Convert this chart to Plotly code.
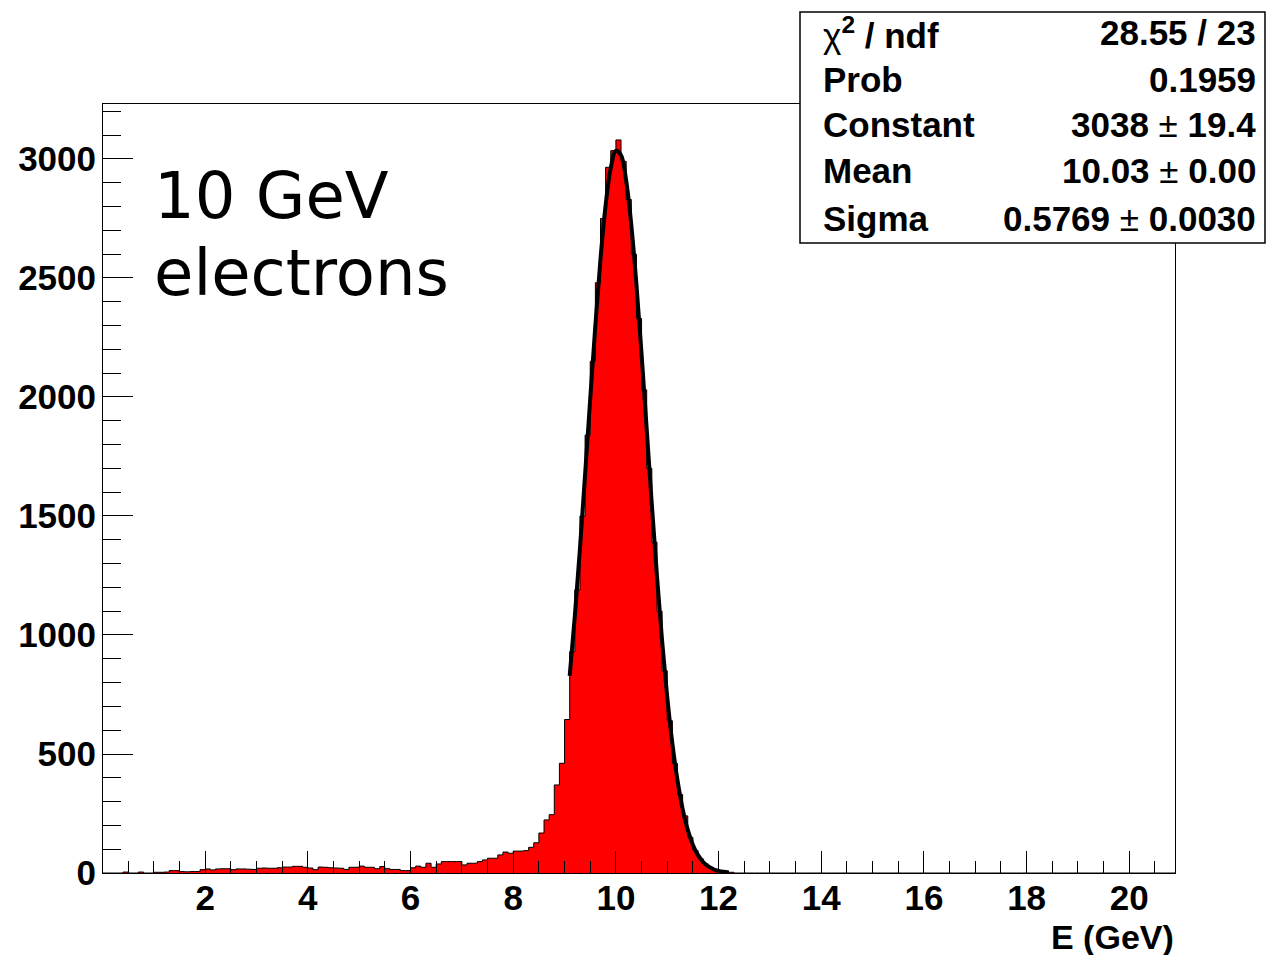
import plotly.graph_objects as go

# ---------------- data ----------------
bin_width = 0.1
hist_start = 0.0
hist_end = 21.0
# counts of bins starting at 0.0, 0.1, 0.2, ... (rest of the range is empty)
counts = [
    0, 0, 0, 0, 4, 0, 0, 4, 0, 0,
    3, 3, 4, 10, 10, 6, 5, 6, 6, 14,
    17, 13, 17, 18, 18, 14, 17, 17, 16, 15,
    20, 21, 20, 20, 22, 25, 25, 28, 28, 24,
    21, 14, 25, 24, 22, 21, 20, 15, 24, 24,
    29, 24, 24, 18, 27, 18, 15, 15, 10, 10,
    22, 29, 24, 41, 24, 38, 48, 48, 48, 48,
    34, 41, 41, 48, 55, 62, 62, 76, 88, 83,
    92, 92, 94, 108, 127, 168, 223, 245, 370, 461,
    645, 930, 1190, 1500, 1840, 2150, 2480, 2750, 2965, 3035,
    3080, 2990, 2830, 2600, 2330, 2030, 1700, 1390, 1100, 850,
    640, 460, 330, 240, 150, 95, 60, 38, 24, 14,
    8, 5, 3, 0,
]

# fitted gaussian curve, read at 0.1 GeV steps from 9.1 to 12.2
fit_x_start = 9.1
fit_values = [828, 1079, 1364, 1674, 1992, 2301, 2580, 2806, 2962, 3034,
              3016, 2909, 2723, 2473, 2180, 1865, 1548, 1247, 975, 739,
              544, 389, 269, 181, 118, 75, 46, 27.5, 15.9, 8.9,
              4.9, 2.6]

x_ticks = [2, 4, 6, 8, 10, 12, 14, 16, 18, 20]
y_ticks = [0, 500, 1000, 1500, 2000, 2500, 3000]

stat_labels = ["<b><sup>2</sup> / ndf</b>", "<b>Prob</b>", "<b>Constant</b>", "<b>Mean</b>", "<b>Sigma</b>"]
stat_label_prefix = ["χ", "", "", "", ""]
stat_values = ["<b>28.55 / 23</b>", "<b>0.1959</b>",
               "<b>3038</b> ± <b>19.4</b>", "<b>10.03</b> ± <b>0.00</b>",
               "<b>0.5769</b> ± <b>0.0030</b>"]
title_lines = ["10 GeV", "electrons"]
x_title = "E (GeV)"

# ---------------- build ----------------
nbins = int(round((hist_end - hist_start) / bin_width))
full_counts = counts + [0] * (nbins - len(counts))
edges = [round(hist_start + i * bin_width, 4) for i in range(nbins + 1)]
step_x = edges
step_y = full_counts + [full_counts[-1]]
fit_x = [round(fit_x_start + i * bin_width, 4) for i in range(len(fit_values))]

W, H = 1266, 955
L, R, T, B = 103, 1175, 104, 873


def px_x(p):
    return (p - L) / (R - L)


def px_y(p):
    return (B - p) / (B - T)


fig = go.Figure()
fig.add_trace(go.Scatter(
    x=step_x, y=step_y, mode="lines", line=dict(shape="hv", color="black", width=1),
    fill="tozeroy", fillcolor="#ff0000", hoverinfo="skip", showlegend=False))
fig.add_trace(go.Scatter(
    x=fit_x, y=fit_values, mode="lines", line=dict(shape="spline", color="black", width=4),
    hoverinfo="skip", showlegend=False))

tickfont = dict(family="Liberation Sans, Arial", size=35, color="black", weight="bold")

fig.update_layout(
    width=W, height=H,
    margin=dict(l=L, r=W - R, t=T, b=H - B, pad=0),
    paper_bgcolor="white", plot_bgcolor="white",
    showlegend=False,
    xaxis=dict(range=[0.01, 20.89], tickvals=x_ticks, ticktext=[str(v) for v in x_ticks],
               ticks="inside", ticklen=22, tickwidth=1, tickcolor="black",
               minor=dict(ticks="inside", ticklen=12, dtick=0.5, tick0=0, tickcolor="black", tickwidth=1),
               showgrid=False, zeroline=False, showline=True, linecolor="black", linewidth=1,
               mirror=True, tickfont=tickfont, ticklabelstandoff=-6),
    yaxis=dict(range=[0, 3231], tickvals=y_ticks, ticktext=[str(v) for v in y_ticks],
               ticks="inside", ticklen=30, tickwidth=1, tickcolor="black",
               minor=dict(ticks="inside", ticklen=18, dtick=100, tick0=0, tickcolor="black", tickwidth=1),
               showgrid=False, zeroline=False, showline=True, linecolor="black", linewidth=1,
               mirror=True, tickfont=tickfont, ticklabelstandoff=-1),
)

# stats box
fig.add_shape(type="rect", xref="paper", yref="paper",
              x0=px_x(800), x1=px_x(1265), y0=px_y(243), y1=px_y(12),
              line=dict(color="black", width=1.5), fillcolor="white", layer="above")

row_y = [33, 79, 125, 171, 218]
statfont = dict(family="Liberation Sans, Arial", size=35, color="black")
for pre, lab, val, yy in zip(stat_label_prefix, stat_labels, stat_values, row_y):
    fig.add_annotation(xref="paper", yref="paper", x=px_x(821), y=px_y(yy),
                       xanchor="left", yanchor="middle", showarrow=False,
                       text=pre + lab, font=statfont)
    fig.add_annotation(xref="paper", yref="paper", x=px_x(1258), y=px_y(yy),
                       xanchor="right", yanchor="middle", showarrow=False,
                       text=val, font=statfont)

# big label
bigfont = dict(family="DejaVu Sans", size=64, color="black")
for line, yy in zip(title_lines, [196, 273]):
    fig.add_annotation(xref="paper", yref="paper", x=px_x(152), y=px_y(yy),
                       xanchor="left", yanchor="middle", showarrow=False,
                       text=line, font=bigfont)

# x axis title
fig.add_annotation(xref="paper", yref="paper", x=px_x(1176), y=px_y(937),
                   xanchor="right", yanchor="middle", showarrow=False,
                   text="<b>" + x_title + "</b>",
                   font=dict(family="Liberation Sans, Arial", size=34, color="black"))

fig.write_html("out.html", config={"displayModeBar": False})
